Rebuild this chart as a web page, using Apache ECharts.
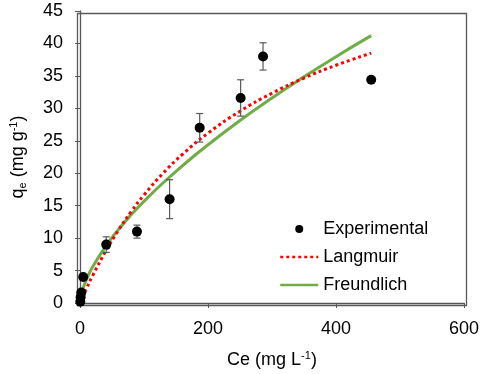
<!DOCTYPE html>
<html>
<head>
<meta charset="utf-8">
<script src="https://cdn.jsdelivr.net/npm/echarts@6/dist/echarts.min.js"></script>
<style>
  html, body { margin: 0; padding: 0; background: #fff; }
  #chart { width: 484px; height: 374px; }
</style>
</head>
<body>
<div id="chart"></div>
<script>
// experimental points (Ce, qe) and their error bars
const expCe = [0.5, 1, 2, 5, 41, 89, 140, 187, 251, 286, 455]
const expQe = [0.2, 0.9, 1.6, 4.0, 9.0, 11.0, 16.0, 27.0, 31.6, 38.0, 34.4]
const expErr = [0, 0, 0, 0, 1.2, 1.0, 3.0, 2.2, 2.8, 2.1, 0]

// model curves
const curveCe = [0, 2, 5, 10, 20, 40, 60, 80, 100, 130, 160, 200, 250, 300, 350, 400, 455]
const langmuirQe = [0, 0.45, 1.12, 2.21, 4.26, 7.96, 11.21, 14.09, 16.65, 20.01, 22.9, 26.17, 29.55, 32.33, 34.66, 36.64, 38.51]
const freundlichQe = [0, 1.29, 2.32, 3.61, 5.61, 8.73, 11.31, 13.6, 15.67, 18.53, 21.15, 24.38, 28.12, 31.59, 34.85, 37.96, 41.2]

const xTicks = [0, 200, 400, 600]
const yTicks = [0, 5, 10, 15, 20, 25, 30, 35, 40, 45]

const chart = echarts.init(document.getElementById('chart'))

const expData = expCe.map((c, i) => [c, expQe[i]])
const errData = expCe.map((c, i) => [c, expQe[i] - expErr[i], expQe[i] + expErr[i]]).filter((d, i) => expErr[i] > 0)
const zip = (xs, ys) => xs.map((x, i) => [x, ys[i]])

const axisColor = '#595959'
const font = 'Liberation Sans, Arial, sans-serif'
const gridLeft = 75, gridTop = 11, gridRight = 20, gridBottom = 71

const option = {
  animation: false,
  textStyle: { fontFamily: font },
  grid: { left: gridLeft, right: gridRight, top: gridTop, bottom: gridBottom },
  xAxis: {
    type: 'value',
    min: xTicks[0],
    max: xTicks[xTicks.length - 1],
    interval: 200,
    name: 'Ce (mg L{sup|-1})',
    nameLocation: 'middle',
    nameGap: 47,
    nameTextStyle: {
      fontSize: 18, color: '#000', fontFamily: font,
      rich: { sup: { fontSize: 11, verticalAlign: 'top', padding: [0, 0, 9, 0], color: '#000' } }
    },
    axisLine: { show: true, lineStyle: { color: axisColor, width: 1.3 } },
    axisTick: { show: true, length: 5, inside: false, lineStyle: { color: axisColor } },
    axisLabel: { fontSize: 18, color: '#000', margin: 17 },
    splitLine: { show: false }
  },
  yAxis: {
    type: 'value',
    min: yTicks[0],
    max: yTicks[yTicks.length - 1],
    interval: 5,
    name: 'q{sub|e} (mg g{sup|-1})',
    nameLocation: 'middle',
    nameGap: 52,
    nameTextStyle: {
      fontSize: 18, color: '#000', fontFamily: font,
      rich: {
        sub: { fontSize: 11, verticalAlign: 'bottom', padding: [9, 0, 0, 0], color: '#000' },
        sup: { fontSize: 11, verticalAlign: 'top', padding: [0, 0, 9, 0], color: '#000' }
      }
    },
    axisLine: { show: true, lineStyle: { color: axisColor, width: 1.3 } },
    axisTick: { show: true, length: 5, inside: false, lineStyle: { color: axisColor } },
    axisLabel: { fontSize: 18, color: '#000', margin: 17 },
    splitLine: { show: false }
  },
  legend: {
    orient: 'vertical',
    left: 274,
    top: 215,
    itemGap: 10,
    itemWidth: 38,
    itemHeight: 8,
    textStyle: { fontSize: 18, color: '#000', fontFamily: font },
    data: [
      { name: 'Experimental', icon: 'circle', itemStyle: { color: '#000' } },
      { name: 'Langmuir', itemStyle: { opacity: 0 }, lineStyle: { width: 2.5 } },
      { name: 'Freundlich', itemStyle: { opacity: 0 }, lineStyle: { width: 2.5 } }
    ]
  },
  graphic: [
    // top and right frame lines
    {
      type: 'rect', left: gridLeft, top: gridTop, z: 0,
      shape: { width: 484 - gridLeft - gridRight, height: 374 - gridTop - gridBottom },
      style: { fill: 'none', stroke: axisColor, lineWidth: 1.3 }
    }
  ],
  series: [
    {
      name: 'Freundlich',
      type: 'line',
      data: zip(curveCe, freundlichQe),
      showSymbol: false,
      symbol: 'none',
      smooth: true,
      lineStyle: { color: '#70AD47', width: 3 },
      itemStyle: { color: '#70AD47' },
      z: 2
    },
    {
      name: 'Langmuir',
      type: 'line',
      data: zip(curveCe, langmuirQe),
      showSymbol: false,
      symbol: 'none',
      smooth: true,
      lineStyle: { color: '#FF0000', width: 3, type: [3, 3] },
      itemStyle: { color: '#FF0000' },
      z: 3
    },
    {
      name: 'error',
      type: 'custom',
      data: errData,
      z: 4,
      renderItem: (params, api) => {
        const lo = api.coord([api.value(0), api.value(1)])
        const hi = api.coord([api.value(0), api.value(2)])
        const w = 3.5
        const style = { stroke: '#595959', lineWidth: 1.2 }
        return {
          type: 'group',
          children: [
            { type: 'line', shape: { x1: lo[0], y1: lo[1], x2: hi[0], y2: hi[1] }, style },
            { type: 'line', shape: { x1: lo[0] - w, y1: lo[1], x2: lo[0] + w, y2: lo[1] }, style },
            { type: 'line', shape: { x1: hi[0] - w, y1: hi[1], x2: hi[0] + w, y2: hi[1] }, style }
          ]
        }
      }
    },
    {
      name: 'Experimental',
      type: 'scatter',
      data: expData,
      symbol: 'circle',
      symbolSize: 10,
      itemStyle: { color: '#000', opacity: 1 },
      z: 5
    }
  ]
}

chart.setOption(option)
</script>
</body>
</html>
